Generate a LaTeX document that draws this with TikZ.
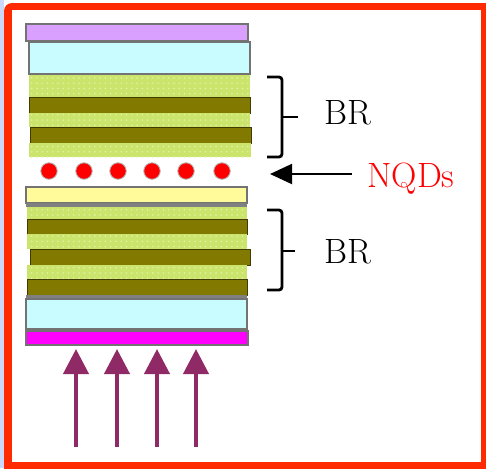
\documentclass[tikz,border=0pt]{standalone}
\usepackage{tikz}
\usetikzlibrary{arrows.meta}
\usetikzlibrary{patterns}
\definecolor{lilac}{HTML}{D9A0FF}
\definecolor{paleblue}{HTML}{C8FCFF}
\definecolor{limeband}{HTML}{CAE46C}
\definecolor{limedot}{HTML}{E2F2A8}
\definecolor{oliveband}{HTML}{827A00}
\definecolor{paleyellow}{HTML}{FFFB9A}
\definecolor{pinkband}{HTML}{FF00FF}
\definecolor{pumparrow}{HTML}{8F2A66}
\definecolor{framered}{HTML}{FF2A00}
\definecolor{outerblue}{HTML}{CCD8FA}
\begin{document}
\begin{tikzpicture}[x=0.02cm, y=-0.02cm,
  layer/.style={draw=black!55, line width=0.6pt},
  limelayer/.style={fill=limeband,
                    postaction={pattern=dots, pattern color=limedot}},
  olivelayer/.style={draw=black!50!oliveband, line width=0.5pt, fill=oliveband},
  dotnode/.style={circle, fill=red, draw=black!30, line width=0.5pt,
                  minimum size=0.33cm, inner sep=0pt},
  pump/.style={-{Triangle[length=0.5cm, width=0.5cm]}, pumparrow, line width=2.3pt},
  bracket/.style={black, line width=1.6pt, rounded corners=0.06cm},
  lbl/.style={font=\fontsize{20}{22}\selectfont, inner sep=0pt}]
  \useasboundingbox (0,0) rectangle (486,468);
  % page edge and frame
  \fill[outerblue] (0,0) rectangle (4,468);
  \fill[framered, rounded corners=0.16cm] (4,3) -- (4,490) -- (500,490) -- (500,3) -- cycle;
  \fill[white] (12,10) rectangle (481,462);
  % upper mirror
  \filldraw[layer, fill=lilac] (26,24) rectangle (248,41);
  \filldraw[layer, fill=paleblue] (29,42) rectangle (250,74);
  \fill[limelayer] (29,75) rectangle (250,97);
  \filldraw[olivelayer] (29,97) rectangle (250,113);
  \fill[limelayer] (29,113) rectangle (250,127);
  \filldraw[olivelayer] (30,127) rectangle (251,143);
  \fill[limelayer] (29,143) rectangle (251,157);
  % quantum dots
  \foreach \i/\xpos in {a/49, b/84, c/118, d/152, e/186, f/222}
    \node[dotnode] (dot\i) at (\xpos,171) {};
  % lower mirror
  \filldraw[layer, fill=paleyellow] (26,187) rectangle (247,203);
  \fill[gray] (26,203) rectangle (247,207);
  \fill[limelayer] (27,207) rectangle (247,219);
  \filldraw[olivelayer] (27,219) rectangle (247,234);
  \fill[limelayer] (27,234) rectangle (247,249);
  \filldraw[olivelayer] (30,249) rectangle (250,265);
  \fill[limelayer] (27,265) rectangle (247,279);
  \filldraw[olivelayer] (27,279) rectangle (247,295);
  \fill[gray] (26,295) rectangle (247,299);
  \filldraw[layer, fill=paleblue] (26,299) rectangle (247,329);
  \filldraw[layer, fill=pinkband] (26,331) rectangle (248,345);
  % pump arrows
  \foreach \i/\xpos in {a/76, b/117, c/157, d/196} {
    \coordinate (pumpstart\i) at (\xpos,447);
    \coordinate (pumpend\i) at (\xpos,349);
    \draw[pump] (pumpstart\i) -- (pumpend\i);
  }
  % braces
  \draw[bracket] (267,77) -- (282,77) -- (282,157) -- (267,157);
  \draw[bracket] (282,117) -- (298,117);
  \draw[bracket] (267,210) -- (282,210) -- (282,290) -- (267,290);
  \draw[bracket] (282,251) -- (295,251);
  % labels
  \node[lbl] (brtop) at (348,113) {BR};
  \node[lbl] (brbot) at (348,252) {BR};
  \node[lbl, text=red] (nqds) at (411,179) {NQDs};
  \coordinate (nqdstart) at (352,174);
  \coordinate (nqdtip) at (270,174);
  \draw[-{Triangle[length=0.44cm, width=0.4cm]}, line width=1.1pt] (nqdstart) -- (nqdtip);
\end{tikzpicture}
\end{document}
